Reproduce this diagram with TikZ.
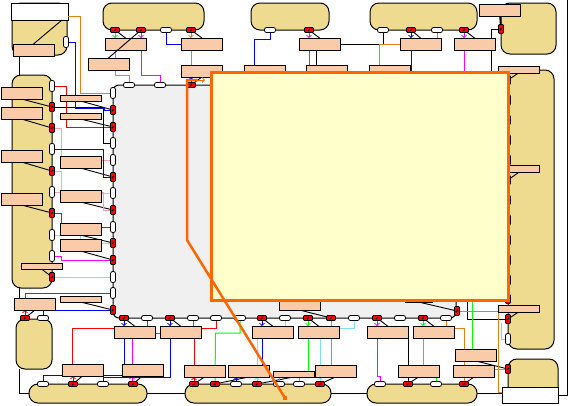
\documentclass[tikz,border=0pt]{standalone}
\usepackage{xcolor}
\usepackage{tikz}
\definecolor{tan}{HTML}{EFDB8F}
\definecolor{peach}{HTML}{FACBA8}
\definecolor{ochre}{HTML}{E08018}
\definecolor{notefill}{HTML}{FFFFCC}
\definecolor{noteline}{HTML}{FF6600}
\definecolor{rose}{HTML}{FFA0B0}
\definecolor{sky}{HTML}{80E0F0}
\definecolor{magenta}{HTML}{FF00FF}
\pgfdeclarelayer{comps}
\pgfdeclarelayer{wires}
\pgfsetlayers{comps,wires,main}
\tikzset{
  comp/.style={draw,line width=1pt,fill=tan,rounded corners=9pt,inner sep=0pt,outer sep=0pt},
  lbl/.style={draw,line width=1pt,fill=peach,minimum width=41pt,minimum height=12pt,inner sep=0pt,outer sep=0pt},
  thinlbl/.style={lbl,minimum height=6pt},
  whitebox/.style={draw,line width=1pt,fill=white,inner sep=0pt,outer sep=0pt},
  redh/.style={draw,line width=0.8pt,fill=red,rounded corners=1pt,minimum width=9pt,minimum height=5pt,inner sep=0pt,outer sep=0pt,
    path picture={\draw[line width=1.2pt] (path picture bounding box.center) ++(-1,1) -- ++(2,-2);}},
  redv/.style={redh,minimum width=5pt,minimum height=9pt},
  holeh/.style={draw,line width=0.8pt,fill=white,rounded corners=2pt,minimum width=11pt,minimum height=5pt,inner sep=0pt,outer sep=0pt},
  holev/.style={holeh,minimum width=5pt,minimum height=11pt},
  wire/.style={line width=1pt},
  lead/.style={line width=0.9pt,black},
  stub/.style={line width=1pt,->,>=to}
}
\begin{document}
\begin{tikzpicture}[x=1pt,y=-1pt]
\useasboundingbox (0,0) rectangle (569,405);
\begin{pgfonlayer}{comps}
\fill[white] (0,0) rectangle (569,405);
\node[comp,minimum width=55pt,minimum height=52pt] (compA) at (39.5,29) {};
\node[comp,minimum width=101pt,minimum height=27pt] (compB) at (153.5,16.5) {};
\node[comp,minimum width=78pt,minimum height=27pt] (compC) at (290,16.5) {};
\node[comp,minimum width=107pt,minimum height=27pt] (compD) at (423.5,16.5) {};
\node[comp,minimum width=55pt,minimum height=51pt] (compE) at (528.5,28.5) {};
\node[comp,minimum width=46pt,minimum height=279pt] (compF) at (531,209.5) {};
\node[comp,minimum width=50pt,minimum height=42pt] (compG) at (533,380) {};
\node[comp,minimum width=40pt,minimum height=213pt] (compH) at (32,181.5) {};
\node[comp,minimum width=36pt,minimum height=50pt] (compI) at (34,344) {};
\node[comp,minimum width=118pt,minimum height=19pt] (compJ) at (88,393.5) {};
\node[comp,minimum width=146pt,minimum height=19pt] (compK) at (258,393.5) {};
\node[comp,minimum width=110pt,minimum height=19pt] (compL) at (422,393.5) {};
\node[comp,fill=black!6,rounded corners=6pt,minimum width=343pt,minimum height=233pt] (compM) at (284.5,201.5) {};
\node[whitebox,minimum width=57pt,minimum height=17pt] (boxA) at (39.5,11.5) {};
\node[whitebox,minimum width=56pt,minimum height=16pt] (boxG) at (530,395) {};
\end{pgfonlayer}
% labels
\node[lbl] (lblA) at (33.5,50) {};
\node[lbl] (lblB1) at (125.5,44) {};
\node[lbl] (lblB2) at (108.5,64) {};
\node[lbl] (lblB3) at (202,44) {};
\node[lbl] (lblB4) at (202,71) {};
\node[lbl] (lblC1) at (319.5,44) {};
\node[lbl] (lblC2) at (264.5,71) {};
\node[lbl] (lblC3) at (326.5,71) {};
\node[lbl] (lblD0) at (389.5,71) {};
\node[lbl] (lblD1) at (420.5,44) {};
\node[lbl] (lblD2) at (474.5,44) {};
\node[lbl] (lblE) at (500,10) {};
\node[lbl,minimum height=7pt] (lblF1) at (518.5,69.5) {};
\node[lbl,minimum height=7pt] (lblF2) at (518.5,169) {};
\node[lbl,minimum height=7pt] (lblF3) at (518.5,308.5) {};
\node[lbl] (lblH1) at (21.5,93) {};
\node[lbl] (lblH2) at (21.5,113) {};
\node[lbl] (lblH3) at (21.5,156) {};
\node[lbl] (lblH4) at (21.5,199) {};
\node[thinlbl] (lblH5) at (41.5,266) {};
\node[thinlbl] (lblW1) at (80.5,98) {};
\node[thinlbl] (lblW2) at (80.5,116) {};
\node[lbl] (lblW3) at (80.5,162) {};
\node[lbl] (lblW4) at (80.5,196) {};
\node[lbl] (lblW5) at (80.5,229) {};
\node[lbl] (lblW6) at (80.5,245) {};
\node[thinlbl] (lblW7) at (80.5,299) {};
\node[lbl] (lblI) at (35,304) {};
\node[lbl] (lblP1) at (134.5,332) {};
\node[lbl] (lblP2) at (180.5,332) {};
\node[lbl] (lblP3) at (272.5,332) {};
\node[lbl] (lblP4) at (318.5,332) {};
\node[lbl] (lblP5) at (387.5,332) {};
\node[lbl] (lblP6) at (433.5,332) {};
\node[lbl] (lblQ) at (299.5,304) {};
\node[lbl,minimum width=27pt] (lblR) at (418.5,296) {};
\node[lbl] (lblS1) at (82.5,370) {};
\node[lbl] (lblS2) at (142.5,370) {};
\node[lbl] (lblT1) at (204.5,371) {};
\node[lbl] (lblT2) at (248.5,371) {};
\node[thinlbl] (lblT3) at (293.5,374) {};
\node[lbl] (lblT4) at (335.5,371) {};
\node[lbl] (lblU1) at (418.5,371) {};
\node[lbl] (lblU2) at (474,371) {};
\node[lbl] (lblV) at (476,355) {};
% ports on the left component
\node[holev] (pH1) at (52,86) {};
\node[redv] (pH2) at (52,107) {};
\node[redv] (pH3) at (52,128) {};
\node[holev] (pH4) at (52,149) {};
\node[redv] (pH5) at (52,171) {};
\node[holev] (pH6) at (52,192) {};
\node[redv] (pH7) at (52,213) {};
\node[holev] (pH8) at (52,235) {};
\node[holev] (pH9) at (52,256) {};
\node[redv] (pH10) at (52,277) {};
% ports on the grey block
\node[holev] (pW1) at (113,93) {};
\node[redv] (pW2) at (113,110) {};
\node[redv] (pW3) at (113,127) {};
\node[holev] (pW4) at (113,143) {};
\node[holev] (pW5) at (113,160) {};
\node[redv] (pW6) at (113,177) {};
\node[holev] (pW7) at (113,193) {};
\node[redv] (pW8) at (113,210) {};
\node[holev] (pW9) at (113,227) {};
\node[redv] (pW10) at (113,243) {};
\node[redv] (pW11) at (113,260) {};
\node[holev] (pW12) at (113,277) {};
\node[holev] (pW13) at (113,293) {};
\node[redv] (pW14) at (113,310) {};
\node[holeh] (pN1) at (129,85) {};
\node[holeh] (pN2) at (160,85) {};
\node[redh] (pN3) at (191,85) {};
\node[redh] (pS1) at (124,318) {};
\node[holeh] (pS2) at (147,318) {};
\node[redh] (pS3) at (170,318) {};
\node[holeh] (pS4) at (193,318) {};
\node[holeh] (pS5) at (216,318) {};
\node[holeh] (pS6) at (240,318) {};
\node[redh] (pS7) at (262,318) {};
\node[holeh] (pS8) at (285,318) {};
\node[redh] (pS9) at (308,318) {};
\node[redh] (pS10) at (331,318) {};
\node[holeh] (pS11) at (354,318) {};
\node[redh] (pS12) at (377,318) {};
\node[holeh] (pS13) at (400,318) {};
\node[redh] (pS14) at (423,318) {};
\node[holeh] (pS15) at (446,318) {};
\node[redv] (pR) at (457,311) {};
% ports on the top row
\node[holev] (pA) at (66,42) {};
\node[redh] (pB1) at (115,30) {};
\node[redh] (pB2) at (141,30) {};
\node[holeh] (pB3) at (166,30) {};
\node[redh] (pB4) at (191,30) {};
\node[holeh] (pC1) at (270,30) {};
\node[redh] (pC2) at (309,30) {};
\node[holeh] (pD1) at (383,30) {};
\node[redh] (pD2) at (411,30) {};
\node[holeh] (pD3) at (437,30) {};
\node[redh] (pD4) at (464,30) {};
\node[redv] (pE) at (501,29) {};
% ports on the right component
\node[redv] (pF1) at (508,80) {};
\node[holev] (pF2) at (508,100) {};
\node[redv] (pF3) at (508,120) {};
\node[holev] (pF4) at (508,140) {};
\node[holev] (pF5) at (508,160) {};
\node[redv] (pF6) at (508,180) {};
\node[redv] (pF7) at (508,200) {};
\node[holev] (pF8) at (508,220) {};
\node[holev] (pF9) at (508,240) {};
\node[holev] (pF10) at (508,260) {};
\node[holev] (pF11) at (508,280) {};
\node[redv] (pF12) at (508,299) {};
\node[redv] (pF13) at (508,319) {};
\node[holev] (pF14) at (508,339) {};
\node[redv] (pG) at (508,369) {};
% ports on the bottom row
\node[redh] (pI1) at (25,318) {};
\node[holeh] (pI2) at (43,318) {};
\node[holeh] (pJ1) at (43,384) {};
\node[redh] (pJ2) at (73,384) {};
\node[holeh] (pJ3) at (103,384) {};
\node[redh] (pJ4) at (133,384) {};
\node[redh] (pK1) at (194,384) {};
\node[redh] (pK2) at (215,384) {};
\node[holeh] (pK3) at (236,384) {};
\node[redh] (pK4) at (257,384) {};
\node[holeh] (pK5) at (279,384) {};
\node[holeh] (pK6) at (299,384) {};
\node[redh] (pK7) at (320,384) {};
\node[holeh] (pL1) at (380,384) {};
\node[redh] (pL2) at (408,384) {};
\node[holeh] (pL3) at (436,384) {};
\node[redh] (pL4) at (464,384) {};
\begin{pgfonlayer}{wires}
% frame lines
\draw[wire] (boxG.east) -| (567,0);
\draw[wire] (19,55) -- (19,75);
\draw[wire] (19,288) -- (lblI.north -| 19,0);
\draw[wire] (19,369) |- (compJ.west);
\draw[wire] (compJ.east) -- (compK.west);
\draw[wire] (compK.east) -- (compL.west);
\draw[wire] (compL.east) -- (boxG.west |- compL.east);
% leaders
\draw[lead] (lblA.north) -- ([xshift=-6pt]boxA.south east);
\draw[lead] (pB1) -- (lblB1.north);
\draw[lead] (pB4) -- (lblB3.north);
\draw[lead] (pC2) -- (lblC1.north);
\draw[lead] (pD2) -- (lblD1.north);
\draw[lead] (pD4) -- (lblD2.north);
\draw[lead] (pN3) -- (lblB4.south);
\draw[lead,line width=1.6pt] (lblE.south) -- (pE);
\draw[lead] (lblF1.south) -- (pF1);
\draw[lead] (lblF2.south) -- (pF6);
\draw[lead] (lblF3.south) -- (pF13);
\draw[lead] (lblH1.south) -- (pH2);
\draw[lead] (lblH2.south) -- (pH3);
\draw[lead] (lblH3.south) -- (pH5);
\draw[lead] (lblH4.south) -- (pH7);
\draw[lead] (lblH5.south) -- (pH10);
\draw[lead] (lblW1.south) -- (pW2);
\draw[lead] (lblW2.south) -- (pW3);
\draw[lead] (lblW3.south) -- (pW6);
\draw[lead] (lblW4.south) -- (pW8);
\draw[lead] (lblW5.south) -- (pW10);
\draw[lead] (lblW6.south) -- (pW11);
\draw[lead] (lblW7.south) -- (pW14);
\draw[lead] (pI1) -- (lblI.south);
\draw[lead] (pS1) -- (lblP1.north);
\draw[lead] (pS3) -- (lblP2.north);
\draw[lead] (pS7) -- (lblP3.north);
\draw[lead] (pS9) -- (lblP4.north);
\draw[lead] (pS12) -- (lblP5.north);
\draw[lead] (pS14) -- (lblP6.north);
\draw[lead] (lblQ.south) -- (pS10);
\draw[lead] (lblR.south) -- (pR);
\draw[lead] (pJ2) -- (lblS1.south);
\draw[lead] (pJ4) -- (lblS2.south);
\draw[lead] (pK1) -- (lblT1.south);
\draw[lead] (pK2) -- (lblT2.south);
\draw[lead] (pK4) -- (lblT3.south);
\draw[lead] (pK7) -- (lblT4.south);
\draw[lead] (pL2) -- (lblU1.south);
\draw[lead] (pL4) -- (lblU2.south);
\draw[lead] (lblV.south) -- (pG);
% top row
\draw[stub,green] (pB1) -- (pB1 |- lblB1.north);
\draw[wire,green] (pB1 |- lblB1.south) |- (129,75) -- (pN1);
\draw[stub,magenta] (pB2) -- (pB2 |- lblB1.north);
\draw[wire,magenta] (pB2 |- lblB1.south) |- (160,75) -- (pN2);
\draw[wire,blue] (pB3) |- (lblB3.west);
\draw[stub,ochre] (pB4) -- (pB4 |- lblB3.north);
\draw[wire,ochre] (pB4 |- lblB3.south) -- (pB4 |- lblB4.north);
\draw[stub,blue] (pN3) -- (pN3 |- lblB4.south);
\draw[wire,blue] (pC1) |- (254,39) -- (254,65);
\draw[stub,magenta] (pC2) -- (pC2 |- lblC1.north);
\draw[wire,magenta] (pC2 |- lblC1.south) -- (pC2 |- lblC3.north);
\draw[wire] (316,50) -- (316,65);
\draw[wire] (pD1) |- (lblC1.east);
\draw[wire,ochre] (379,65) |- (lblD1.west);
\draw[stub,blue] (pD2) -- (pD2 |- lblD1.north);
\draw[wire,blue] (pD2 |- lblD1.south) -- (411,72);
\draw[wire,ochre] (pD3) -- (pD3 |- lblD1.north);
\draw[stub,magenta] (pD4) -- (pD4 |- lblD2.north);
\draw[wire,magenta] (pD4 |- lblD2.south) -- (464,72);
\draw[wire] (pE) -| (491,38);
\draw[wire] (491,50) |- (443,71);
% left side
\draw[wire,blue] (pA) -| (75,108) -- (104,108) |- (pW2);
\draw[wire,ochre] (boxA.east |- 0,16) -| (80,93) -- (pW1);
\draw[wire,red] (pH1) -| (66,127) -- (pW3);
\draw[wire] (pH2) -| (103,143) -- (pW4);
\draw[wire,rose] (pH3) -| (61,160) -- (pW5);
\draw[wire,blue] (pH4) -| (103,177) -- (pW6);
\draw[wire,sky] (pH5) -| (61,193) -- (pW7);
\draw[wire,rose] (pH6) -| (103,210) -- (pW8);
\draw[wire,red] (pH7) -| (61,227) -- (pW9);
\draw[wire,sky] (pH8) -| (80,243) -- (pW10);
\draw[wire,magenta] (pH9) -| (61,260) -- (pW11);
\draw[wire,sky] (pH10) -- (pW12);
\draw[wire,red] (lblI.north -| pI1) |- (pW13);
\draw[wire,blue] (lblI.east |- pW14) -- (pW14);
\draw[stub,red] (pI1) -- (pI1 |- lblI.south);
\draw[wire,blue] (pI2) -- (pI2 |- lblI.south);
% bottom row
\draw[stub,blue] (pS1) -- (pS1 |- lblP1.north);
\draw[wire,red] (pS2) -- (pS2 |- lblP1.north);
\draw[stub,blue] (pS3) -- (pS3 |- lblP2.north);
\draw[wire,magenta] (pS4) -- (pS4 |- lblP2.north);
\draw[wire,red] (pS5) |- (lblP2.east |- 0,328);
\draw[wire,red] (lblP1.west |- 0,328) -| (72,364);
\draw[wire,magenta] (lblP1.east |- 0,333) -- (lblP2.west |- 0,333);
\draw[wire,blue] (pS1 |- lblP1.south) |- (43,375) -- (pJ1);
\draw[wire,magenta] (132,338) -- (132,364);
\draw[stub,magenta] (pJ4 -| 132,0) -- (132,376);
\draw[wire,blue] (pS3 |- lblP2.south) |- (103,377) -- (pJ3);
\draw[wire,red] (pK1 |- lblP2.south) -- (pK1 |- lblT1.north);
\draw[stub,red] (pJ2) -- (pJ2 |- lblS1.south);
\draw[stub,red] (pK1) -- (pK1 |- lblT1.south);
\draw[wire,green] (pS6) |- (215.5,333) -- (pK2);
\draw[stub,blue] (pS7) -- (pS7 |- lblP3.north);
\draw[wire,blue] (pS7 |- lblP3.south) -- (pS7 |- lblT2.north);
\draw[wire,sky] (pK4 |- lblP3.south) -- (pK4 |- lblT2.north);
\draw[wire,sky] (pS8) -- (pS8 |- lblP3.north);
\draw[stub,green] (pS9) -- (pS9 |- lblP4.north);
\draw[wire,green] (pS9 |- lblP4.south) -- (pS9 |- lblT3.north);
\draw[wire,ochre] (pS10) -- (pS10 |- lblP4.north);
\draw[wire,sky] (pS11) |- (lblP4.east |- 0,328);
\draw[wire,sky] (pK7 |- lblP4.south) -- (pK7 |- lblT4.north);
\draw[wire,ochre] (pS10 |- lblP4.south) -- (pS10 |- lblT4.north);
\draw[stub,magenta] (pS12) -- (pS12 |- lblP5.north);
\draw[wire,magenta] (pS12 |- lblP5.south) |- (380,376) -- (pL1);
\draw[stub,green] (pS14) -- (pS14 |- lblP6.north);
\draw[wire,green] (pS14 |- lblP6.south) -- (pS14 |- lblU1.north);
\draw[wire,ochre] (pS15) -- (pS15 |- lblP6.north);
\draw[wire,ochre] (lblP6.east |- 0,328) -| (pL4);
\draw[wire] (lblP5.east) -- (lblP5.east |- pL2) -- (pL2);
\draw[wire,green] (pL3) -- (pL3 |- lblU1.south);
\draw[stub,blue] (pK3) -- (pK3 |- lblT2.south);
\draw[stub,sky] (pK4) -- (pK4 |- lblT2.south);
\draw[wire,green] (pK5) -- (pK5 |- lblT3.south);
\draw[wire,ochre] (pK6) -- (pK6 |- lblT3.south);
\draw[stub,sky] (pK7) -- (pK7 |- lblT4.south);
% right side
\draw[wire] (467,300) |- (pF13);
\draw[wire,green] (472,300) -- (472,349);
\draw[wire,ochre] (pR) -| (498,392) -- (boxG.west |- 0,392);
\draw[wire,rose] (501,323) |- (pF14);
\draw[wire,green] (lblU2.east |- pG) -- (pG);
\end{pgfonlayer}
% lines over the labels
\draw[lead] (pB2) -- (lblB2.north);
% note
\node[draw=noteline,fill=notefill,line width=3pt,inner sep=0pt,minimum width=297pt,minimum height=228pt] (note) at (359.5,186) {};
\coordinate (tip) at (285,398);
\draw[noteline,line width=2.5pt] (198,80) -- (187,80) -- (187,240) -- (tip);
\fill[noteline] (tip) ++(-2,-2) rectangle ++(4,4);
\draw[noteline,stub] (187,80) -- (205,80);
\end{tikzpicture}
\end{document}
